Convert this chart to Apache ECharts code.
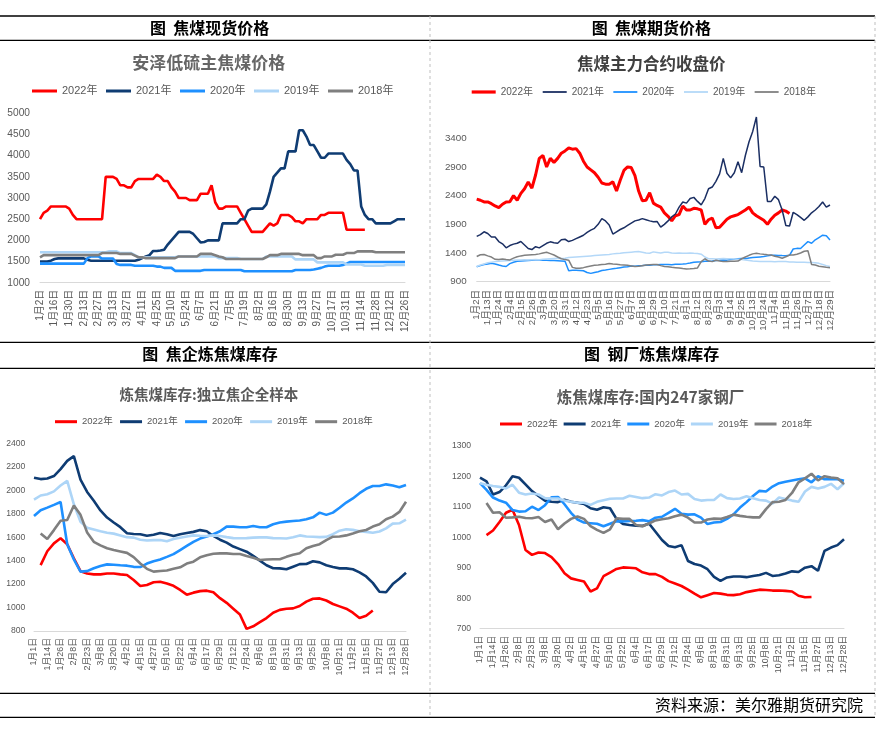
<!DOCTYPE html>
<html><head><meta charset="utf-8">
<script src="https://cdn.jsdelivr.net/npm/echarts/dist/echarts.min.js"></script>
<style>html,body{margin:0;padding:0;background:#fff}#c{width:883px;height:745px}</style>
</head><body><div id="c"></div>
<script>
const years = ['2022年','2021年','2020年','2019年','2018年'];

// ---- Panel 1: 安泽低硫主焦煤价格 (4 samples per label interval)
const spotLabels = ['1月2日','1月16日','1月30日','2月13日','2月27日','3月13日','3月27日','4月11日','4月25日','5月10日','5月24日','6月7日','6月21日','7月5日','7月19日','8月2日','8月16日','8月30日','9月13日','9月27日','10月17日','10月31日','11月14日','11月28日','12月12日','12月26日'];
const spot2022 = [2500,2650,2700,2800,2800,2800,2800,2800,2750,2600,
2500,2500,2500,2500,2500,2500,2500,2500,3500,3500,
3500,3450,3300,3300,3250,3250,3400,3450,3450,3450,
3450,3450,3550,3500,3400,3400,3250,3150,3000,3000,
3000,2950,2950,2950,3100,3100,3100,3300,2900,2750,
2750,2800,2800,2800,2800,2650,2500,2350,2200,2200,
2200,2200,2300,2400,2350,2400,2600,2600,2600,2550,
2450,2450,2400,2500,2500,2500,2500,2600,2600,2650,
2650,2650,2650,2650,2250,2250,2250,2250,2250,2250];
const spot2021 = [1500,1500,1500,1520,1560,1575,1575,1575,1575,1575,
1575,1575,1575,1540,1520,1520,1520,1520,1520,1520,
1520,1520,1520,1520,1520,1520,1520,1540,1580,1620,
1650,1750,1750,1760,1780,1900,2000,2100,2200,2200,
2200,2200,2150,2050,1950,1960,2000,2000,2000,2000,
2400,2400,2400,2400,2400,2500,2500,2700,2750,2750,
2750,2750,2850,3150,3500,3600,3700,3700,4100,4100,
4100,4600,4600,4450,4250,4250,4100,3950,3950,4050,
4050,4050,4050,4050,3900,3800,3650,3650,2800,2600,
2500,2500,2400,2400,2400,2400,2400,2450,2500,2500,
2500];
const spot2020 = [1450,1450,1450,1450,1450,1450,1450,1450,1450,1450,
1450,1450,1450,1580,1620,1620,1620,1570,1570,1570,
1570,1440,1420,1420,1420,1420,1400,1400,1400,1400,
1400,1400,1380,1380,1350,1350,1350,1280,1280,1280,
1280,1280,1280,1280,1280,1300,1300,1300,1300,1300,
1300,1300,1300,1300,1300,1300,1270,1270,1270,1270,
1270,1270,1270,1270,1270,1270,1270,1270,1270,1270,
1300,1300,1300,1300,1300,1310,1330,1350,1380,1400,
1400,1400,1400,1420,1450,1490,1490,1490,1490,1490,
1490,1490,1490,1490,1490,1490,1490,1490,1490,1490,
1490];
const spot2019 = [1720,1720,1720,1720,1720,1720,1720,1720,1720,1720,
1720,1720,1720,1720,1720,1720,1720,1720,1720,1740,
1740,1740,1700,1700,1700,1700,1650,1600,1600,1600,
1600,1600,1600,1600,1600,1600,1600,1600,1620,1620,
1620,1620,1620,1620,1620,1620,1620,1620,1620,1580,
1580,1580,1580,1580,1580,1560,1560,1560,1560,1560,
1560,1560,1620,1620,1620,1620,1620,1620,1620,1620,
1550,1550,1550,1550,1550,1550,1480,1480,1480,1480,
1480,1480,1480,1480,1430,1430,1430,1430,1430,1400,
1400,1400,1400,1400,1400,1420,1420,1420,1420,1420,
1420];
const spot2018 = [1600,1650,1650,1650,1650,1650,1650,1650,1650,1650,
1650,1650,1650,1650,1650,1650,1650,1700,1700,1700,
1700,1700,1680,1680,1680,1680,1640,1600,1600,1580,
1580,1580,1580,1580,1580,1580,1580,1580,1620,1620,
1620,1620,1620,1620,1680,1680,1680,1680,1650,1620,
1600,1560,1560,1560,1560,1560,1560,1560,1560,1560,
1560,1560,1600,1650,1650,1650,1680,1680,1680,1680,
1680,1680,1650,1650,1650,1650,1580,1580,1620,1620,
1620,1660,1660,1660,1700,1700,1700,1740,1740,1740,
1740,1740,1720,1720,1720,1720,1720,1720,1720,1720,
1720];

// ---- Panel 2: 焦煤主力合约收盘价 (3 samples per label interval)
const futLabels = ['1月2日','1月13日','1月24日','2月4日','2月15日','2月26日','3月9日','3月20日','3月31日','4月12日','4月23日','5月5日','5月16日','5月27日','6月7日','6月18日','6月29日','7月10日','7月21日','8月1日','8月12日','8月23日','9月3日','9月14日','9月25日','10月13日','10月24日','11月4日','11月15日','11月26日','12月7日','12月18日','12月29日'];
const fut2022 = [2340,2320,2290,2290,2260,2220,2190,2250,2290,2295,
2400,2320,2440,2520,2640,2530,2760,3050,3100,2900,
3050,2980,3050,3140,3180,3230,3210,3220,3140,3000,
2900,2850,2800,2720,2620,2600,2600,2640,2480,2670,
2840,2900,2890,2750,2480,2310,2320,2450,2270,2230,
2200,2100,2040,1960,2050,2070,2220,2150,2150,2180,
2170,2150,1900,1980,2010,1840,1850,1920,1990,2030,
2050,2070,2110,2150,2200,2100,2050,2010,1970,1900,
1990,2060,2100,2150,2130,2090];
const fut2021 = [1690,1720,1770,1740,1680,1680,1600,1560,1490,1530,
1555,1570,1600,1540,1480,1460,1510,1490,1530,1570,
1595,1580,1570,1630,1640,1600,1620,1650,1680,1710,
1760,1800,1830,1900,2000,1960,1890,1730,1770,1810,
1840,1880,1920,1960,1975,2000,1980,1960,1946,1950,
1850,1900,1960,2030,2080,2200,2290,2270,2350,2370,
2300,2240,2350,2520,2550,2650,2780,3050,2790,2710,
2800,2990,2800,3100,3340,3520,3770,2910,2900,2300,
2300,2390,2330,2150,1880,1870,2110,2070,2020,1970,
2030,2100,2150,2210,2290,2200,2237];
const fut2020 = [1160,1180,1200,1210,1220,1210,1190,1175,1165,1215,
1240,1255,1260,1265,1270,1275,1278,1278,1275,1272,
1270,1268,1265,1260,1255,1090,1100,1100,1095,1090,
1060,1045,1060,1074,1095,1104,1115,1125,1133,1145,
1155,1162,1172,1168,1180,1183,1188,1185,1196,1196,
1198,1200,1200,1195,1204,1206,1208,1215,1225,1240,
1245,1249,1255,1258,1262,1268,1272,1280,1276,1285,
1292,1300,1306,1302,1312,1320,1326,1332,1338,1350,
1362,1360,1358,1355,1354,1360,1470,1481,1480,1540,
1598,1570,1630,1670,1710,1700,1627];
const fut2019 = [1165,1190,1210,1230,1240,1250,1255,1260,1265,1270,
1275,1278,1280,1282,1280,1283,1285,1283,1290,1295,
1300,1305,1310,1305,1310,1320,1325,1330,1335,1340,
1345,1350,1355,1360,1365,1370,1375,1385,1390,1395,
1405,1410,1415,1420,1425,1415,1400,1395,1420,1410,
1400,1412,1415,1400,1395,1400,1395,1398,1400,1395,
1392,1380,1330,1300,1298,1295,1300,1305,1300,1298,
1295,1290,1285,1280,1270,1260,1255,1250,1250,1252,
1250,1248,1250,1252,1250,1245,1245,1240,1240,1238,
1235,1235,1230,1220,1200,1180,1165];
const fut2018 = [1340,1370,1375,1350,1330,1290,1285,1295,1285,1280,
1310,1336,1350,1360,1365,1370,1375,1385,1400,1412,
1390,1365,1330,1300,1285,1275,1150,1133,1133,1145,
1162,1175,1185,1191,1198,1205,1218,1210,1205,1195,
1191,1185,1175,1165,1170,1180,1190,1195,1200,1200,
1180,1165,1160,1150,1145,1140,1130,1121,1125,1130,
1140,1250,1300,1260,1250,1275,1260,1250,1250,1255,
1255,1260,1300,1330,1360,1385,1394,1385,1377,1370,
1365,1345,1330,1310,1335,1365,1365,1380,1400,1430,
1440,1200,1190,1170,1160,1150,1144];

// ---- Panels 3 & 4: weekly inventory
const invDates = ['1月1日','1月7日','1月14日','1月20日','1月26日','2月1日','2月8日','2月15日','2月23日','3月1日','3月8日','3月14日','3月20日','3月26日','4月2日','4月9日','4月15日','4月21日','4月27日','5月4日','5月10日','5月16日','5月22日','5月28日','6月4日','6月10日','6月17日','6月23日','6月29日','7月6日','7月12日','7月18日','7月24日','7月31日','8月6日','8月12日','8月19日','8月25日','8月31日','9月6日','9月13日','9月19日','9月25日','10月1日','10月8日','10月14日','10月21日','10月27日','11月2日','11月8日','11月15日','11月21日','11月27日','12月5日','12月13日','12月20日','12月28日'];

const coke2022 = [null,1362,1480,1547,1590,1540,1420,1310,1290,1283,
1283,1290,1290,1283,1277,1235,1184,1192,1215,1220,
1205,1185,1150,1110,1127,1140,1144,1130,1080,1040,
990,940,818,840,875,910,956,980,990,993,
1013,1050,1075,1078,1060,1030,1010,990,956,910,
930,975];
const coke2021 = [2107,2095,2100,2121,2180,2250,2291,2090,1985,1910,
1828,1767,1725,1685,1633,1627,1625,1612,1620,1635,
1625,1610,1625,1635,1645,1660,1650,1610,1578,1553,
1520,1498,1476,1440,1400,1360,1335,1334,1326,1348,
1370,1371,1395,1385,1360,1345,1334,1334,1326,1300,
1265,1210,1135,1130,1200,1245,1297];
const coke2020 = [1780,1830,1852,1875,1900,1540,1410,1306,1310,1335,
1354,1368,1365,1360,1357,1347,1345,1375,1395,1410,
1432,1455,1490,1525,1560,1588,1605,1625,1650,1690,
1690,1684,1684,1695,1684,1684,1710,1725,1732,1737,
1742,1752,1769,1809,1790,1809,1850,1895,1930,1975,
2012,2036,2036,2050,2040,2025,2045];
const coke2019 = [1920,1955,1966,1990,2040,2080,1880,1730,1680,1665,
1650,1638,1630,1615,1600,1596,1578,1572,1575,1575,
1565,1585,1595,1605,1615,1612,1610,1615,1610,1600,
1592,1590,1592,1596,1598,1598,1592,1590,1588,1600,
1615,1605,1604,1600,1602,1625,1655,1667,1662,1650,
1645,1638,1648,1675,1715,1718,1750];
const coke2018 = [null,1632,1585,1660,1740,1746,1870,1790,1640,1560,
1530,1505,1490,1478,1466,1430,1375,1330,1306,1312,
1316,1330,1343,1375,1391,1428,1445,1458,1462,1462,
1457,1456,1440,1425,1405,1410,1411,1411,1432,1450,
1462,1505,1525,1540,1575,1604,1606,1615,1632,1650,
1661,1690,1710,1752,1775,1815,1902];

const mill2022 = [null,1007,1022,1050,1080,1090,1040,958,942,950,
948,935,912,882,865,860,855,822,832,872,
884,896,901,900,898,885,879,879,870,856,
848,840,828,815,803,810,817,815,811,810,
813,820,824,828,827,825,825,824,822,808,
803,804];
const mill2021 = [1195,1183,1140,1148,1170,1200,1195,1173,1151,1135,
1120,1116,1115,1123,1116,1113,1109,1095,1090,1098,
1095,1060,1043,1040,1038,1037,1045,1018,991,971,
967,974,922,912,907,895,870,857,868,871,
871,869,873,876,883,873,875,881,888,886,
900,905,890,955,966,974,993];
const mill2020 = [1177,1155,1130,1120,1113,1089,1084,1085,1100,1089,
1105,1131,1132,1108,1080,1058,1048,1046,1044,1036,
1044,1052,1052,1053,1054,1056,1052,1064,1067,1080,
1093,1077,1074,1075,1064,1043,1048,1050,1060,1075,
1097,1115,1135,1152,1150,1166,1177,1182,1186,1190,
1193,1180,1200,1190,1190,1190,1185];
const mill2019 = [1177,1172,1168,1165,1160,1172,1146,1140,1143,1140,
1128,1127,1127,1120,1116,1113,1113,1106,1116,1121,
1126,1127,1127,1136,1132,1128,1130,1141,1137,1148,
1153,1140,1142,1125,1120,1122,1122,1140,1128,1125,
1127,1134,1128,1122,1120,1110,1130,1125,1120,1116,
1150,1165,1160,1165,1175,1157,1177];
const mill2018 = [null,1112,1080,1082,1064,1065,1067,1063,1062,1066,
1050,1058,1026,1045,1060,1068,1060,1036,1024,1014,
1026,1062,1060,1060,1040,1036,1045,1055,1059,1062,
1069,1074,1064,1048,1048,1058,1061,1060,1066,1074,
1070,1067,1065,1065,1092,1115,1116,1122,1145,1180,
1193,1208,1186,1200,1196,1193,1174];

// ---- styling
const col1 = ['#FF0000','#0F3C73','#1E90FF','#ADD5F7','#7F7F7F'];
const col2 = ['#FF0000','#1B2F63','#1E90FF','#B4D8F8','#808080'];
const LBL = '#595959';
const FONT = 'Liberation Sans, Noto Sans CJK SC, sans-serif';

function xy(arr, perLabel) { return arr.map((v, i) => [i / perLabel, v]); }

const panels = [
  {key:'spot', sets:[spot2022,spot2021,spot2020,spot2019,spot2018], per:4, colors:col1, widths:[2.6,2.6,2.6,2.6,2.6]},
  {key:'fut',  sets:[fut2022,fut2021,fut2020,fut2019,fut2018], per:3, colors:col2, widths:[3,1.5,1.5,1.5,1.5]},
  {key:'coke', sets:[coke2022,coke2021,coke2020,coke2019,coke2018], per:0, colors:col1, widths:[2.6,2.6,2.6,2.6,2.6]},
  {key:'mill', sets:[mill2022,mill2021,mill2020,mill2019,mill2018], per:0, colors:col1, widths:[2.6,2.6,2.6,2.6,2.6]}
];

const series = [];
panels.forEach((p, gi) => {
  p.sets.forEach((arr, si) => {
    series.push({
      name: p.key + '|' + years[si], type:'line', xAxisIndex:gi, yAxisIndex:gi,
      data: p.per ? xy(arr, p.per) : arr,
      symbol:'none', showSymbol:false, connectNulls:false,
      lineStyle:{color:p.colors[si], width:p.widths[si]},
      itemStyle:{color:p.colors[si]}, z: 2 + si
    });
  });
});

const grids = [
  {left:40, top:113.3, width:365, height:169.4},
  {left:476.7, top:109.6, width:353.3, height:172.1},
  {left:34, top:443.3, width:372, height:187.7},
  {left:480, top:445.7, width:364, height:183}
];

function valX(gi, labels, fs, margin) {
  return {type:'value', gridIndex:gi, min:0, max:labels.length-1, interval:1,
    axisLine:{show:true, onZero:false, lineStyle:{color:'#D9D9D9', width:1}},
    axisTick:{show:false}, splitLine:{show:false},
    axisLabel:{rotate:90, fontSize:fs, color:LBL, margin:margin, fontFamily:FONT,
      formatter: v => labels[Math.round(v)] || ''}};
}
function catX(gi, fs, margin) {
  return {type:'category', gridIndex:gi, data:invDates, boundaryGap:false,
    axisLine:{show:true, onZero:false, lineStyle:{color:'#D9D9D9', width:1}},
    axisTick:{show:false}, splitLine:{show:false},
    axisLabel:{interval:1, rotate:90, fontSize:fs, color:LBL, margin:margin, fontFamily:FONT}};
}
function valY(gi, min, max, interval, fs, margin, hideMax) {
  return {type:'value', gridIndex:gi, min:min, max:max, interval:interval,
    axisLine:{show:false}, axisTick:{show:false}, splitLine:{show:false},
    axisLabel:{fontSize:fs, color:LBL, margin:margin, fontFamily:FONT, showMaxLabel: !hideMax,
      formatter: v => String(v)}};
}

function legend(key, names, left, top, iw, ih, fs, tw, gap) {
  return {data: names.map(n => key + '|' + n), left:left, top:top, orient:'horizontal',
    padding:0, itemWidth:iw, itemHeight:ih, itemGap:gap, icon:'rect', selectedMode:false,
    formatter: n => n.split('|')[1],
    textStyle:{fontSize:fs, color:LBL, width:tw, lineHeight:12, fontFamily:FONT}};
}

function txt(x, y, text, fs, weight, color, align) {
  return {type:'text', x:x, y:y, silent:true,
    style:{text:text, fontSize:fs, fontWeight:weight, fill:color, fontFamily:'Noto Sans CJK SC, sans-serif',
      align: align || 'center', verticalAlign:'middle', textAlign: align || 'center', textVerticalAlign:'middle'}};
}
function hline(y) {
  return {type:'line', silent:true, shape:{x1:0, y1:y, x2:875, y2:y}, style:{stroke:'#000', lineWidth:1.3}};
}
function vdash(x) {
  return {type:'line', silent:true, shape:{x1:x, y1:16, x2:x, y2:717}, style:{stroke:'#BFBFBF', lineWidth:1, lineDash:[3,3]}};
}

const option = {
  animation:false,
  backgroundColor:'#ffffff',
  textStyle:{fontFamily:FONT},
  grid: grids,
  xAxis: [valX(0, spotLabels, 10, 7), valX(1, futLabels, 9.7, 8), catX(2, 8.9, 7), catX(3, 8.9, 7)],
  yAxis: [valY(0, 1000, 5000, 500, 10.2, 10), valY(1, 900, 3900, 500, 9.8, 10, true),
          valY(2, 800, 2400, 200, 8.6, 8.7), valY(3, 700, 1300, 100, 8.6, 9)],
  legend: [
    legend('spot', years, 32, 85, 25, 3, 11, 36, 8),
    legend('fut', ['2022年'], 471.7, 86, 24, 3.2, 10, 32, 9.4),
    legend('fut', years.slice(1), 542.7, 86, 24, 1.8, 10, 32, 9.4),
    legend('coke', years, 55, 415.7, 22, 3, 9.5, 30, 7.4),
    legend('mill', years, 500, 418, 22, 3, 9.5, 30, 6)
  ],
  series: series,
  graphic: [
    hline(16), hline(40.3), hline(342.3), hline(368.3), hline(693.3), hline(717.3),
    vdash(430), vdash(875),
    txt(209.7, 28, '图  焦煤现货价格', 16, 'bold', '#000'),
    txt(651.3, 28, '图  焦煤期货价格', 16, 'bold', '#000'),
    txt(210, 354, '图  焦企炼焦煤库存', 16, 'bold', '#000'),
    txt(651.7, 354, '图  钢厂炼焦煤库存', 16, 'bold', '#000'),
    txt(208.7, 62.3, '安泽低硫主焦煤价格', 17, 'bold', '#666666'),
    txt(651.3, 63.3, '焦煤主力合约收盘价', 16.5, 'bold', '#404040'),
    txt(208.8, 394, '炼焦煤库存:独立焦企全样本', 14.5, 'bold', '#595959'),
    txt(650.5, 396.7, '炼焦煤库存:国内247家钢厂', 15.5, 'bold', '#595959'),
    txt(863, 705, '资料来源：美尔雅期货研究院', 16, 'normal', '#000', 'right')
  ]
};

const chart = echarts.init(document.getElementById('c'), null, {renderer:'canvas'});
chart.setOption(option);
</script>
</body></html>
